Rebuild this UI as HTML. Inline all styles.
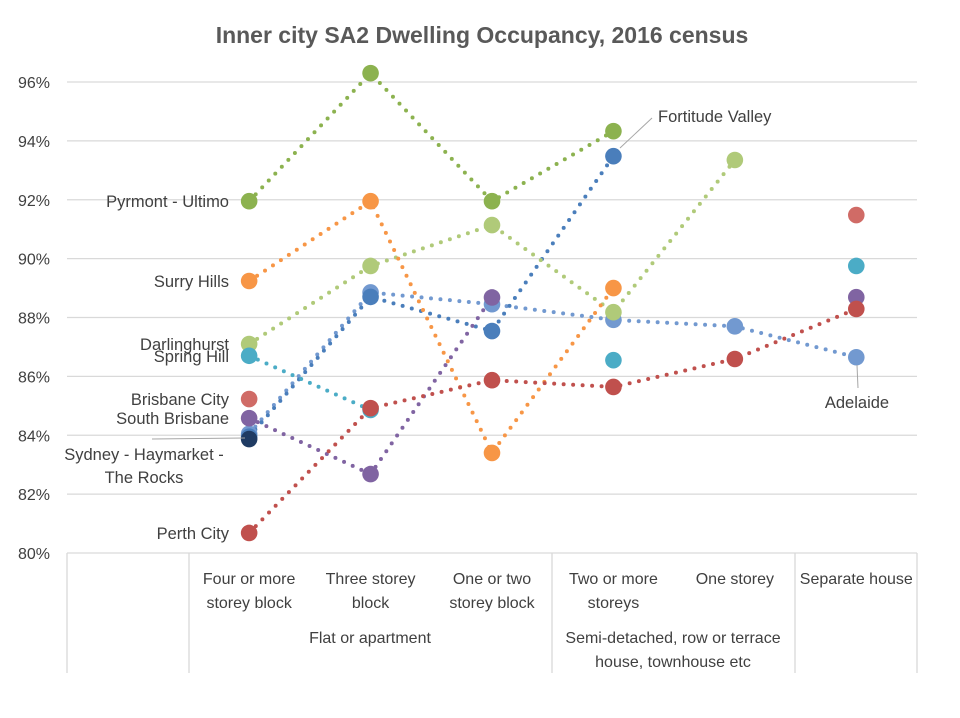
<!DOCTYPE html>
<html><head><meta charset="utf-8"><style>
body{margin:0;background:#fff;}
svg text{font-family:"Liberation Sans Narrow","Liberation Sans",sans-serif;fill:#404040;}
</style></head><body>
<svg id="chart" width="960" height="713" viewBox="0 0 960 713" xmlns="http://www.w3.org/2000/svg">
<text x="482" y="43" text-anchor="middle" style="font-family:'Liberation Sans',sans-serif;font-weight:bold;font-size:23px;fill:#595959">Inner city SA2 Dwelling Occupancy, 2016 census</text>
<g id="grid"></g><g id="axis"></g><g id="lines"></g><g id="points"></g><g id="labels"></g>
</svg>
<script>
const categories=["Four or more|storey block","Three storey|block","One or two|storey block","Two or more|storeys","One storey","Separate house"];
const yTicks=[80,82,84,86,88,90,92,94,96];
const seriesNames=["Pyrmont - Ultimo","Surry Hills","Darlinghurst","Spring Hill","Brisbane City","South Brisbane","Sydney - Haymarket - The Rocks","Perth City","Fortitude Valley","Adelaide"];
const seriesColors=["#8cb24f","#f79646","#b0ca79","#4bacc6","#d06b66","#8064a2","#1f3b63","#c0504d","#4a7ebb","#7299d0"];
const pyrmont=[91.95,96.3,91.95,94.33,null,null];
const surryHills=[89.24,91.95,83.4,89.0,null,null];
const darlinghurst=[87.1,89.75,91.14,88.18,93.35,null];
const springHill=[86.7,84.86,null,86.55,null,89.75];
const brisbaneCity=[85.23,null,null,null,null,91.48];
const southBrisbane=[84.58,82.68,88.68,null,null,88.69];
const sydney=[83.87,null,null,null,null,null];
const perth=[80.68,84.92,85.87,85.64,86.59,88.29];
const fortitude=[83.95,88.7,87.54,93.48,null,null];
const adelaide=[84.05,88.85,88.45,87.92,87.7,86.65];
const seriesValues=[pyrmont,surryHills,darlinghurst,springHill,brisbaneCity,southBrisbane,sydney,perth,fortitude,adelaide];
const seriesLines=[true,true,true,"first2",false,"first3",false,true,true,true];
const drawOrder=[9,8,2,0,1,3,5,7,4,6];

const NS="http://www.w3.org/2000/svg";
const X0=67,SLOT=(917-67)/7,Y80=553,Y96=82;
const xs=i=>X0+SLOT*(i+1.5);
const ys=v=>Y80-(v-80)*(Y80-Y96)/16;
function mk(tag,attrs,parent){const e=document.createElementNS(NS,tag);for(const k in attrs)e.setAttribute(k,attrs[k]);parent.appendChild(e);return e;}
const grid=document.getElementById('grid'),axis=document.getElementById('axis'),lines=document.getElementById('lines'),pts=document.getElementById('points'),labs=document.getElementById('labels');
yTicks.forEach(t=>{
 const l=mk('line',{x1:X0,x2:917,y1:ys(t),y2:ys(t),stroke:'#d9d9d9','stroke-width':1.3},grid);
 
 
 const tx=mk('text',{x:50,y:ys(t)+6,'text-anchor':'end','font-size':16},axis);tx.textContent=t+'%';
 
 
});
[[67,553],[189,553],[552,553],[795,553],[917,553]].forEach(([x,y])=>{
 const l=mk('line',{x1:x,x2:x,y1:y,y2:673,stroke:'#d9d9d9','stroke-width':1.3},axis);
 
 
});
categories.forEach((c,i)=>{
 const parts=c.split('|');
 parts.forEach((p,j)=>{
  const t=mk('text',{x:xs(i),y:584+j*24,'text-anchor':'middle','font-size':16},axis);t.textContent=p;
  
  
 });
});
[["Flat or apartment",370,643],["Semi-detached, row or terrace",673,643],["house, townhouse etc",673,667]].forEach(([s,x,y])=>{
 const t=mk('text',{x:x,y:y,'text-anchor':'middle','font-size':16},axis);t.textContent=s;
 
 
});
drawOrder.forEach(si=>{
 const v=seriesValues[si],col=seriesColors[si],mode=seriesLines[si];
 if(mode){
  const lim=mode==="first2"?2:mode==="first3"?3:6;
  let pts2=[];
  for(let i=0;i<lim;i++){if(v[i]!=null)pts2.push(xs(i)+','+ys(v[i]));}
  const pl=mk('polyline',{points:pts2.join(' '),fill:'none',stroke:col,'stroke-width':4,'stroke-dasharray':'0 9.5','stroke-linecap':'round'},lines);
  
  
 }
});
drawOrder.forEach(si=>{
 const v=seriesValues[si],col=seriesColors[si];
 v.forEach((val,i)=>{
  if(val==null)return;
  const c=mk('circle',{cx:xs(i),cy:ys(val),r:8.3,fill:col},pts);
  
  
 });
});
const labelData=[["Pyrmont - Ultimo",229,207,"end"],["Surry Hills",229,287,"end"],["Darlinghurst",229,350,"end"],["Spring Hill",229,362,"end"],["Brisbane City",229,405,"end"],["South Brisbane",229,424,"end"],["Sydney - Haymarket -",144,460,"middle"],["The Rocks",144,483,"middle"],["Perth City",229,539,"end"],["Fortitude Valley",658,122,"start"],["Adelaide",857,408,"middle"]];
labelData.forEach(([s,x,y,a])=>{
 const t=mk('text',{x:x,y:y,'text-anchor':a,'font-size':16.5},labs);t.textContent=s;
 
 
});
[[152,439,245,438],[620,148,652,118],[857,365,858,388]].forEach(([a,b,c,d])=>{
 const l=mk('line',{x1:a,y1:b,x2:c,y2:d,stroke:'#a6a6a6','stroke-width':1},labs);
 
 
});
</script>
</body></html>
